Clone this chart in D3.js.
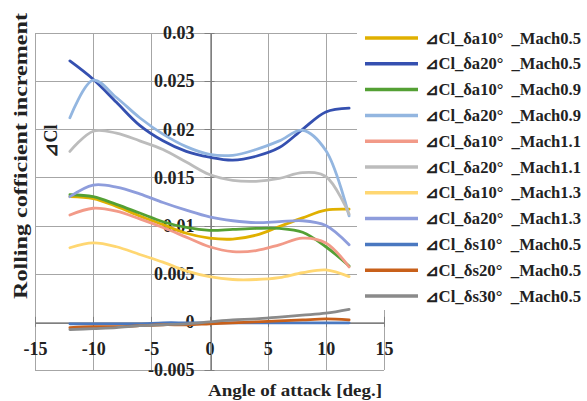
<!DOCTYPE html>
<meta charset="utf-8">
<head>
<style>
body { margin: 0; background: #fff; }
text { font-family: 'Liberation Serif', 'Times New Roman', serif; font-weight: bold; fill: #222; }
.grid line { stroke: #a6a6a6; stroke-width: 1; shape-rendering: crispEdges; }
.axis path, .axis line { stroke: #7f7f7f; shape-rendering: crispEdges; }
.axis text { font-size: 18px; }
.series { fill: none; stroke-width: 2.8; stroke-linejoin: round; stroke-linecap: round; }
.legend text { font-size: 16px; white-space: pre; }
</style>
</head>
<body>
<div id="chart"></div>
<script src="https://d3js.org/d3.v7.min.js"></script>
<script>

// angle of attack [deg.]
var angles = [-12, -10, -8, -6, -4, -2, 0, 2, 4, 6, 8, 10, 12];

var labels = [
  "⊿Cl_δa10°  _Mach0.5", "⊿Cl_δa20°  _Mach0.5",
  "⊿Cl_δa10°  _Mach0.9", "⊿Cl_δa20°  _Mach0.9",
  "⊿Cl_δa10°  _Mach1.1", "⊿Cl_δa20°  _Mach1.1",
  "⊿Cl_δa10°  _Mach1.3", "⊿Cl_δa20°  _Mach1.3",
  "⊿Cl_δs10°  _Mach0.5", "⊿Cl_δs20°  _Mach0.5", "⊿Cl_δs30°  _Mach0.5"
];

var a10_m05 = [0.0130, 0.0128, 0.0120, 0.0110, 0.0101, 0.0092, 0.0087, 0.0086, 0.0090, 0.0099, 0.0108, 0.0116, 0.0117];
var a20_m05 = [0.0271, 0.0252, 0.0228, 0.0204, 0.0188, 0.0177, 0.0171, 0.0168, 0.0172, 0.0181, 0.0200, 0.0218, 0.0222];
var a10_m09 = [0.0132, 0.0130, 0.0122, 0.0113, 0.0104, 0.0098, 0.0095, 0.0096, 0.0097, 0.0097, 0.0093, 0.0078, 0.0058];
var a20_m09 = [0.0212, 0.0251, 0.0233, 0.0212, 0.0195, 0.0182, 0.0174, 0.0173, 0.0179, 0.0188, 0.0199, 0.0178, 0.0110];
var a10_m11 = [0.0111, 0.0118, 0.0115, 0.0107, 0.0098, 0.0088, 0.0078, 0.0073, 0.0074, 0.0080, 0.0087, 0.0082, 0.0057];
var a20_m11 = [0.0177, 0.0198, 0.0196, 0.0188, 0.0179, 0.0166, 0.0153, 0.0147, 0.0146, 0.0149, 0.0155, 0.0151, 0.0112];
var a10_m13 = [0.0077, 0.0082, 0.0078, 0.0070, 0.0062, 0.0053, 0.0047, 0.0044, 0.0044, 0.0046, 0.0051, 0.0054, 0.0047];
var a20_m13 = [0.0130, 0.0142, 0.0140, 0.0133, 0.0124, 0.0116, 0.0109, 0.0105, 0.0103, 0.0104, 0.0105, 0.0100, 0.0080];
var s10_m05 = [-0.0002, -0.0002, -0.0002, -0.0002, -0.0001, -0.0001, -0.0001, -0.0001, -0.0001, -0.0001, -0.0001, -0.0001, -0.0001];
var s20_m05 = [-0.0006, -0.0005, -0.0005, -0.0004, -0.0003, -0.0003, -0.0002, -0.0001, 0.0000, 0.0001, 0.0002, 0.0003, 0.0002];
var s30_m05 = [-0.0008, -0.0007, -0.0006, -0.0004, -0.0003, -0.0002, 0.0000, 0.0002, 0.0003, 0.0005, 0.0007, 0.0009, 0.0013];

var xTicks = [-15, -10, -5, 0, 5, 10, 15];
var yTicks = [-0.005, 0, 0.005, 0.01, 0.015, 0.02, 0.025, 0.03];

var values = [a10_m05, a20_m05, a10_m09, a20_m09, a10_m11, a20_m11, a10_m13, a20_m13, s10_m05, s20_m05, s30_m05];
var colors = ["#e0b000", "#3550b0", "#54a034", "#93b6e0", "#f29a88", "#bcbcbc",
              "#ffd772", "#8e9ddc", "#4a78c0", "#c8601a", "#8a8a8a"];

var width = 587, height = 401;

var x = d3.scaleLinear().domain([-15, 15]).range([35, 384]);
var y = d3.scaleLinear().domain([-0.005, 0.03]).range([370, 33]);

var svg = d3.select("#chart").append("svg")
    .attr("width", width)
    .attr("height", height);

// gridlines
var grid = svg.append("g").attr("class", "grid");
grid.selectAll(".gx").data(xTicks).enter().append("line")
    .attr("x1", function(d) { return Math.round(x(d)) + 0.5; })
    .attr("x2", function(d) { return Math.round(x(d)) + 0.5; })
    .attr("y1", y(0.03)).attr("y2", y(-0.005));
grid.selectAll(".gy").data(yTicks).enter().append("line")
    .attr("y1", function(d) { return Math.round(y(d)) + 0.5; })
    .attr("y2", function(d) { return Math.round(y(d)) + 0.5; })
    .attr("x1", x(-15)).attr("x2", x(15));

// axes crossing at zero
var xAxis = d3.axisBottom(x).tickValues(xTicks).tickSize(0).tickPadding(20)
    .tickFormat(function(d) { return d < 0 ? "-" + Math.abs(d) : d; });
var yAxis = d3.axisLeft(y).tickValues(yTicks).tickSize(0).tickPadding(16)
    .tickFormat(function(d) { return d === 0 ? "0" : (d < 0 ? "-" : "") + Math.abs(d); });

svg.append("g")
    .attr("class", "x axis")
    .attr("transform", "translate(0," + (Math.round(y(0)) + 0.5) + ")")
    .call(xAxis);
svg.append("g")
    .attr("class", "y axis")
    .attr("transform", "translate(" + (Math.round(x(0)) + 0.5) + ",0)")
    .call(yAxis);

// cross tick marks
svg.append("g").selectAll("line").data(xTicks).enter().append("line")
    .attr("x1", function(d) { return Math.round(x(d)) + 0.5; })
    .attr("x2", function(d) { return Math.round(x(d)) + 0.5; })
    .attr("y1", y(0) - 5).attr("y2", y(0) + 5)
    .attr("stroke", "#7f7f7f");
svg.append("g").selectAll("line").data(yTicks).enter().append("line")
    .attr("y1", function(d) { return Math.round(y(d)) + 0.5; })
    .attr("y2", function(d) { return Math.round(y(d)) + 0.5; })
    .attr("x1", x(0) - 5).attr("x2", x(0) + 5)
    .attr("stroke", "#7f7f7f");

var line = d3.line()
    .x(function(d, i) { return x(angles[i]); })
    .y(function(d) { return y(d); })
    .curve(d3.curveCatmullRom.alpha(0.5));

svg.append("g").selectAll("path")
    .data(values)
  .enter().append("path")
    .attr("class", "series")
    .attr("stroke", function(d, i) { return colors[i]; })
    .attr("d", line);

// legend sits on a white box over the right of the plot
var legend = svg.append("g").attr("class", "legend");
legend.append("rect")
    .attr("x", 357).attr("y", 24)
    .attr("width", 230).attr("height", 286)
    .attr("fill", "#fff");

var entry = legend.selectAll(".entry")
    .data(labels)
  .enter().append("g")
    .attr("class", "entry")
    .attr("transform", function(d, i) { return "translate(0," + (38 + i * 25.8) + ")"; });

entry.append("line")
    .attr("x1", 365).attr("x2", 418)
    .attr("stroke-width", 3.5)
    .attr("stroke", function(d, i) { return colors[i]; });

entry.append("text")
    .attr("x", 425)
    .attr("dy", "0.35em")
    .attr("textLength", 156)
    .attr("lengthAdjust", "spacingAndGlyphs")
    .text(function(d) { return d; });

// axis titles
svg.append("text")
    .attr("transform", "translate(27,156) rotate(-90)")
    .attr("text-anchor", "middle")
    .attr("textLength", 286)
    .attr("lengthAdjust", "spacingAndGlyphs")
    .style("font-size", "18px")
    .text("Rolling cofficient increment");

svg.append("text")
    .attr("transform", "translate(57,141) rotate(-90)")
    .attr("text-anchor", "middle")
    .style("font-size", "18px")
    .text("⊿Cl");

svg.append("text")
    .attr("x", 295)
    .attr("y", 396)
    .attr("text-anchor", "middle")
    .attr("textLength", 174)
    .attr("lengthAdjust", "spacingAndGlyphs")
    .style("font-size", "17px")
    .text("Angle of attack [deg.]");

</script>
</body>
